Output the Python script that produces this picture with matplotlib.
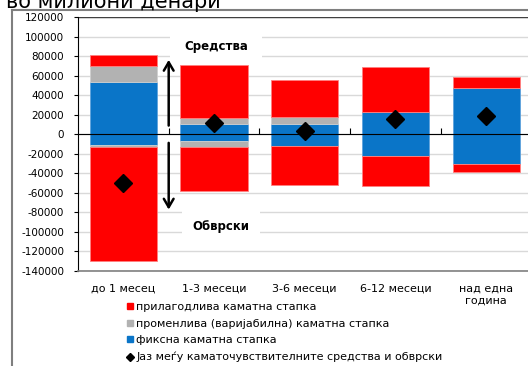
import matplotlib
matplotlib.use("Agg")
import matplotlib.pyplot as plt
from matplotlib.lines import Line2D
import numpy as np

plt.rcParams['font.family'] = ['DejaVu Sans']

categories = ["до 1 месец", "1-3 месеци", "3-6 месеци", "6-12 месеци", "над една\nгодина"]

# Assets (positive)
assets_fixed = [53700, 10200, 10200, 23000, 47200]
assets_variable = [16300, 6100, 7800, 0, 0]
assets_adjustable = [11000, 54700, 37400, 46000, 10900]

# Liabilities (negative)
liab_fixed = [-10900, -6800, -11900, -21800, -30600]
liab_variable = [-1700, -6500, -500, 0, 0]
liab_adjustable = [-116900, -44500, -39300, -30900, -7800]

gap = [-49500, 12000, 3000, 15600, 19000]

yticks = list(range(-140000, 120001, 20000))

legend_labels = ["прилагодлива каматна стапка",
                 "променлива (варијабилна) каматна стапка",
                 "фиксна каматна стапка",
                 "Јаз меѓу каматочувствителните средства и обврски"]

RED = "#FF0000"
GRAY = "#B2B2B2"
BLUE = "#0A75C8"

W, H = 528, 366
fig = plt.figure(figsize=(W / 100, H / 100), dpi=100)
ax = fig.add_axes([78 / W, 1 - 271 / H, (5 * 90.7) / W, (271 - 17) / H])

x = np.arange(len(categories))
bw = 0.74
af = np.array(assets_fixed)
av = np.array(assets_variable)
aa = np.array(assets_adjustable)
lf = np.array(liab_fixed)
lv = np.array(liab_variable)
la = np.array(liab_adjustable)

kw = dict(width=bw, zorder=3, linewidth=0.6)
ax.bar(x, af, color=BLUE, edgecolor="#5fa3dc", **kw)
ax.bar(x, av, bottom=af, color=GRAY, edgecolor="#cfcfcf", **kw)
ax.bar(x, aa, bottom=af + av, color=RED, edgecolor="#ff8080", **kw)
ax.bar(x, lf, color=BLUE, edgecolor="#5fa3dc", **kw)
ax.bar(x, lv, bottom=lf, color=GRAY, edgecolor="#cfcfcf", **kw)
ax.bar(x, la, bottom=lf + lv, color=RED, edgecolor="#ff8080", **kw)

ax.plot(x, gap, linestyle="none", marker="D", color="black", markersize=9, zorder=5)

ax.set_xlim(-0.5, len(categories) - 0.5)
ax.set_ylim(-140000, 120000)
ax.set_yticks(yticks)
ax.set_yticklabels([str(v) for v in yticks], fontsize=7.5)
ax.tick_params(axis='y', direction='out', length=3, width=0.8, pad=7)
ax.yaxis.grid(True, color="#D9D9D9", linewidth=1.0, zorder=0)
ax.set_axisbelow(True)

ax.set_xticks(x)
ax.set_xticklabels(categories, fontsize=8, linespacing=1.3)
ax.tick_params(axis='x', length=0, pad=9)

for s in ['top', 'right']:
    ax.spines[s].set_visible(False)
ax.spines['bottom'].set_color("#808080")
ax.spines['bottom'].set_linewidth(1.2)
ax.spines['left'].set_color("black")
ax.spines['left'].set_linewidth(0.8)
ax.axhline(120000, color="#404040", linewidth=1.0, zorder=1)

# zero axis with boundary ticks
sec = ax.secondary_xaxis(140000 / 260000)
sec.set_xticks(x[:-1] + 0.5)
sec.set_xticklabels([])
sec.tick_params(direction='out', length=4, width=0.8, color='black')
sec.spines['bottom'].set_color('black')
sec.spines['bottom'].set_linewidth(1.0)
sec.set_zorder(4)

# white boxes hiding gridlines behind annotations
ax.text(1.02, 90000, "Средства", ha="center", va="center", fontsize=8.5,
        fontweight="bold", zorder=2,
        bbox=dict(boxstyle="square,pad=1.2", facecolor="white", edgecolor="none"))
ax.text(1.08, -94500, "Обврски", ha="center", va="center", fontsize=8.5,
        fontweight="bold", zorder=2,
        bbox=dict(boxstyle="square,pad=0.9", facecolor="white", edgecolor="none"))

ax.annotate("", xy=(0.5, 79000), xytext=(0.5, 6000),
            arrowprops=dict(arrowstyle="->,head_length=0.6,head_width=0.35", lw=1.8, color="black"),
            zorder=6)
ax.annotate("", xy=(0.5, -80000), xytext=(0.5, -6000),
            arrowprops=dict(arrowstyle="->,head_length=0.6,head_width=0.35", lw=1.8, color="black"),
            zorder=6)

handles = [
    Line2D([], [], linestyle="none", marker="s", markersize=5, color=RED),
    Line2D([], [], linestyle="none", marker="s", markersize=5, color=GRAY),
    Line2D([], [], linestyle="none", marker="s", markersize=5, color=BLUE),
    Line2D([], [], linestyle="none", marker="D", markersize=4, color="black"),
]
fig.legend(handles, legend_labels, loc="upper left",
           bbox_to_anchor=(127 / W, 1 - 302 / H), frameon=False, fontsize=8,
           handlelength=0.6, handletextpad=0.25, labelspacing=0.6,
           borderpad=0, borderaxespad=0)

# chart frame
fig.add_artist(Line2D([12 / W, 12 / W], [0, 1 - 10 / H], color="#7f7f7f", lw=1.5,
                      transform=fig.transFigure))
fig.add_artist(Line2D([12 / W, 1], [1 - 10 / H, 1 - 10 / H], color="#7f7f7f", lw=1.5,
                      transform=fig.transFigure))

fig.text(6 / W, 1 - 8 / H, "во милиони денари", fontsize=15, ha="left", va="baseline")

fig.savefig("out.png", dpi=100)
